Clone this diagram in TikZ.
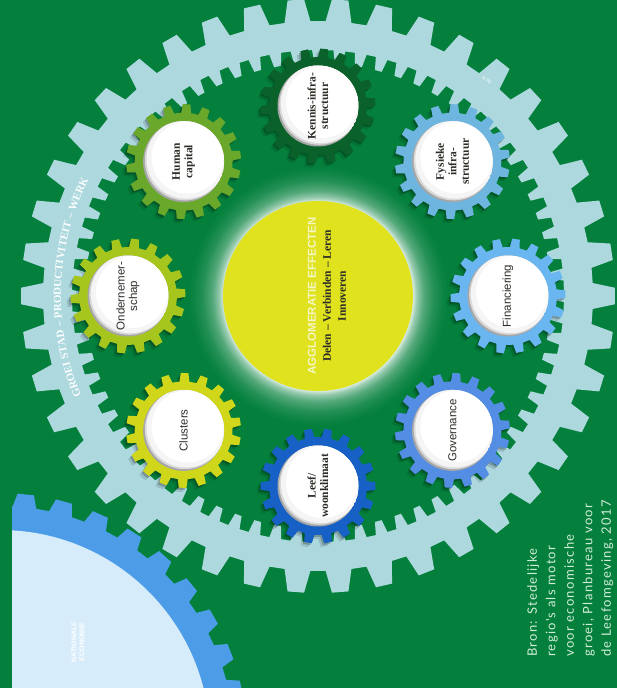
\documentclass[tikz,border=0pt]{standalone}
\usepackage{fontspec}
\setmainfont{Liberation Serif}
\newfontfamily\lsans{Liberation Sans}
\newfontfamily\creditfont{Lato}[LetterSpace=10]
\usetikzlibrary{decorations.text}
\definecolor{bg}{RGB}{4,128,60}
\definecolor{ringc}{RGB}{172,216,222}
\definecolor{gHuman}{RGB}{106,168,44}
\definecolor{gOnder}{RGB}{166,198,30}
\definecolor{gClus}{RGB}{208,214,26}
\definecolor{gLeef}{RGB}{22,96,198}
\definecolor{gGov}{RGB}{84,142,228}
\definecolor{gFin}{RGB}{106,182,240}
\definecolor{gFys}{RGB}{110,182,224}
\definecolor{gKen}{RGB}{10,98,42}
\definecolor{yel}{RGB}{224,226,30}
\definecolor{natgear}{RGB}{76,156,232}
\definecolor{natdisc}{RGB}{214,236,250}
\definecolor{labeltext}{RGB}{45,45,40}
\definecolor{paleyel}{RGB}{244,246,196}
\definecolor{credit}{RGB}{210,236,218}
\pgfdeclareradialshading{glow}{\pgfpointorigin}{color(0bp)=(white); color(18.2bp)=(white!85!bg); color(19bp)=(white!58!bg); color(20.3bp)=(white!32!bg); color(22.2bp)=(white!13!bg); color(24bp)=(white!3!bg); color(25bp)=(bg); color(50bp)=(bg)}
% gear: #1 options, #2 centre, #3 teeth, #4 base r, #5 tip r, #6 base half-angle, #7 tip half-angle, #8 rotation
\newcommand\gearfill[8]{%
  \begin{scope}[shift={#2},rotate=#8]
    \path[#1] ({#6}:#4) \foreach \k in {1,...,#3}{ -- ({\k*360/#3-#6}:#4) -- ({\k*360/#3-#7}:#5) -- ({\k*360/#3+#7}:#5) -- ({\k*360/#3+#6}:#4)} -- cycle;
  \end{scope}}
% small gear with white disc: #1 name, #2 x, #3 y, #4 colour, #5 rotation
\newcommand\smallgear[5]{%
  \gearfill{fill=black,opacity=0.12}{(#2-3.5,#3-4)}{18}{49}{57.5}{5.8}{3.8}{#5}
  \gearfill{fill=black,opacity=0.22}{(#2-1.5,#3-2)}{18}{49}{57.5}{5.8}{3.8}{#5}
  \gearfill{fill=#4}{(#2,#3)}{18}{49}{57.5}{5.8}{3.8}{#5}
  \begin{scope}[shift={(#2,#3)}]
    \coordinate (#1) at (0,0);
    \clip (0,0) circle (40.5);
    \fill[gray!70] (0,0) circle (40.5);
    \fill[gray!30] (1.2,1.2) circle (40);
    \fill[white!92!gray] (2.4,2.4) circle (39.5);
    \fill[white] (4,4) circle (36);
  \end{scope}}
\tikzset{
  glabel/.style={rotate=90, align=center, text=labeltext, inner sep=0pt, font=\fontsize{11.5}{12.5}\selectfont\bfseries},
  slabel/.style={rotate=90, align=center, text=labeltext, inner sep=0pt, font=\lsans\fontsize{11.5}{12.5}\selectfont}
}
\begin{document}
\begin{tikzpicture}[x=1pt,y=1pt]
\useasboundingbox (0,0) rectangle (617,698);
\fill[white] (0,0) rectangle (617,10);
\fill[bg] (0,10) rectangle (617,698);
\coordinate (C) at (318,402);
% national economy gear
\begin{scope}
  \clip (12,10) rectangle (617,698);
  \gearfill{fill=natgear}{(0,-42)}{40}{234}{247}{2.9}{1.9}{3}
  \fill[natdisc] (0,-42) circle (210);
\end{scope}
\node[rotate=90, align=center, text=white, inner sep=0pt, font=\lsans\bfseries\fontsize{7}{8}\selectfont] (nat) at (78,56) {NATIONALE\\ECONOMIE};
% big ring
\begin{scope}[shift={(318,402)}]
  \path[fill=ringc, even odd rule] ({2.7}:275) \foreach \k in {1,...,42}{ -- ({\k*360/42-2.7}:275) -- ({\k*360/42-1.6}:297) -- ({\k*360/42+1.6}:297) -- ({\k*360/42+2.7}:275)} -- cycle
    ({1.4}:246) \foreach \k in {1,...,72}{ -- ({\k*5-1.4}:246) -- ({\k*5-0.85}:233) -- ({\k*5+0.85}:233) -- ({\k*5+1.4}:246)} -- cycle;
\end{scope}
\path[decorate, decoration={text along path, text align=center, text color=white!95!ringc,
  text={|\bfseries\fontsize{11}{11}\selectfont|GROEI{\ }STAD{\ }–{\ }PRODUCTIVITEIT{\ }–{\ }WERK}}]
  ([shift={(212:257)}]C) arc[start angle=212, end angle=144, radius=257];
\node[rotate=-38, text=white, inner sep=0pt, font=\lsans\fontsize{6}{7}\selectfont] (uro) at (487,618) {u ro};
% centre
\shade[shading=glow] (C) circle (130);
\fill[yel] (C) circle (95);
\node[rotate=90, align=center, inner sep=0pt, font=\fontsize{11.5}{15}\selectfont] (centre) at (327,402)
  {{\lsans\bfseries\color{paleyel}AGGLOMERATIE EFFECTEN}\\[0pt]{\bfseries\color{labeltext}Delen – Verbinden – Leren}\\{\bfseries\color{labeltext}Innoveren}};
% small gears
\smallgear{kennis}{318}{592}{gKen}{4}
\smallgear{fysiek}{452.4}{536.4}{gFys}{8}
\smallgear{finan}{508}{402}{gFin}{2}
\smallgear{gov}{452.4}{267.6}{gGov}{6}
\smallgear{leef}{318}{212}{gLeef}{0}
\smallgear{clus}{183.6}{267.6}{gClus}{9}
\smallgear{onder}{128}{402}{gOnder}{3}
\smallgear{human}{183.6}{536.4}{gHuman}{7}
\node[glabel] (tkennis) at (kennis) {Kennis-infra-\\structuur};
\node[glabel] (tfysiek) at (fysiek) {Fysieke\\infra-\\structuur};
\node[slabel] (tfinan) at (finan) {Financiering};
\node[slabel] (tgov) at (gov) {Governance};
\node[glabel] (tleef) at (leef) {Leef/\\woonklimaat};
\node[slabel] (tclus) at (clus) {Clusters};
\node[slabel] (tonder) at (onder) {Ondernemer-\\schap};
\node[glabel] (thuman) at (human) {Human\\capital};
% credit
\node[rotate=90, anchor=north west, align=left, inner sep=0pt, text=credit, font=\creditfont\fontsize{13}{18.5}\selectfont] (bron) at (527,41)
  {Bron: Stedelijke\\regio's als motor\\voor economische\\groei, Planbureau voor\\de Leefomgeving, 2017};
\end{tikzpicture}
\end{document}
